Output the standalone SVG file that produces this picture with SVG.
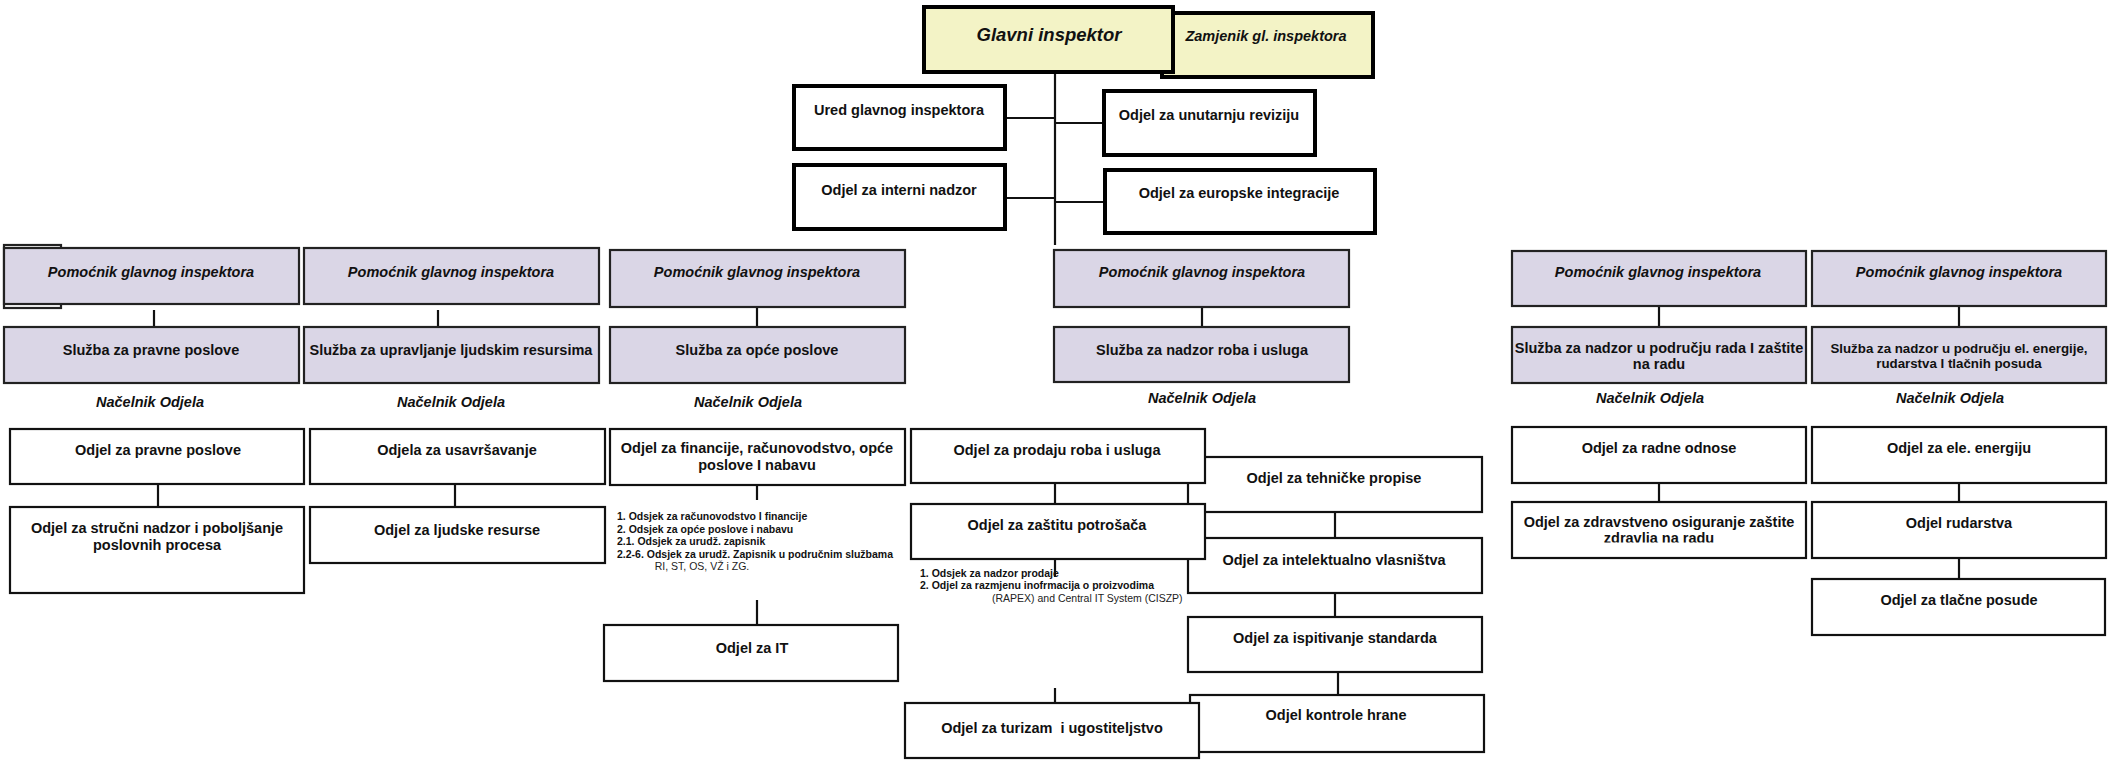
<svg xmlns="http://www.w3.org/2000/svg" width="2114" height="760" viewBox="0 0 2114 760">
<defs>
<style>
text{font-family:"Liberation Sans",Arial,sans-serif;fill:#111;}
.t{font-size:14.5px;font-weight:bold;text-anchor:middle;}
.ti{font-size:14.5px;font-weight:bold;font-style:italic;text-anchor:middle;}
.big{font-size:18.5px;font-weight:bold;font-style:italic;text-anchor:middle;}
.sm{font-size:10.5px;font-weight:bold;}
.rg{font-size:10.5px;font-weight:normal;fill:#222;}
.w{fill:#fff;stroke:#111;stroke-width:2.2;}
.wt{fill:#fff;stroke:#000;stroke-width:4;}
.y{fill:#f3f3c6;stroke:#000;stroke-width:4;}
.l{fill:#dad6e6;stroke:#222;stroke-width:2.2;}
.c{stroke:#111;stroke-width:2.2;fill:none;}
</style>
<clipPath id="clipZd"><rect x="1512" y="502" width="294" height="40.5"/></clipPath>
</defs>
<rect width="2114" height="760" fill="#fff"/>

<g id="connectors">
<line class="c" x1="1055" y1="72" x2="1055" y2="245"/>
<line class="c" x1="1005" y1="118" x2="1055" y2="118"/>
<line class="c" x1="1055" y1="123" x2="1104" y2="123"/>
<line class="c" x1="1005" y1="198" x2="1055" y2="198"/>
<line class="c" x1="1055" y1="202" x2="1105" y2="202"/>
<line class="c" x1="154" y1="310" x2="154" y2="327"/>
<line class="c" x1="438" y1="310" x2="438" y2="327"/>
<line class="c" x1="757" y1="307" x2="757" y2="327"/>
<line class="c" x1="1202" y1="307" x2="1202" y2="327"/>
<line class="c" x1="1659" y1="306" x2="1659" y2="327"/>
<line class="c" x1="1959" y1="306" x2="1959" y2="327"/>
<line class="c" x1="158" y1="484" x2="158" y2="507"/>
<line class="c" x1="455" y1="484" x2="455" y2="507"/>
<line class="c" x1="757" y1="485" x2="757" y2="500"/>
<line class="c" x1="757" y1="600" x2="757" y2="625"/>
<line class="c" x1="1055" y1="483" x2="1055" y2="504"/>
<line class="c" x1="1055" y1="559" x2="1055" y2="577"/>
<line class="c" x1="1055" y1="688" x2="1055" y2="703"/>
<line class="c" x1="1335" y1="512" x2="1335" y2="538"/>
<line class="c" x1="1335" y1="593" x2="1335" y2="617"/>
<line class="c" x1="1338" y1="672" x2="1338" y2="695"/>
<line class="c" x1="1659" y1="483" x2="1659" y2="502"/>
<line class="c" x1="1959" y1="483" x2="1959" y2="502"/>
<line class="c" x1="1959" y1="558" x2="1959" y2="579"/>
</g>

<g id="zamjenik"><rect class="y" x="1162" y="13" width="211" height="64"/><text class="ti" x="1266" y="41">Zamjenik gl. inspektora</text></g>
<g id="glavni"><rect class="y" x="924" y="7" width="249" height="65"/><text class="big" x="1049" y="41">Glavni inspektor</text></g>

<g id="ured"><rect class="wt" x="794" y="86" width="211" height="63"/><text class="t" x="899" y="115">Ured glavnog inspektora</text></g>
<g id="revizija"><rect class="wt" x="1104" y="91" width="211" height="64"/><text class="t" x="1209" y="120">Odjel za unutarnju reviziju</text></g>
<g id="interni"><rect class="wt" x="794" y="165" width="211" height="64"/><text class="t" x="899" y="195">Odjel za interni nadzor</text></g>
<g id="europske"><rect class="wt" x="1105" y="170" width="270" height="63"/><text class="t" x="1239" y="198">Odjel za europske integracije</text></g>

<!-- column 1 -->
<g id="pom1"><rect x="4" y="245" width="57" height="63" fill="#fff" stroke="#222" stroke-width="2.2"/><rect class="l" x="4" y="248" width="295" height="56"/><text class="ti" x="151" y="277">Pomoćnik glavnog inspektora</text></g>
<g id="sl1"><rect class="l" x="4" y="327" width="295" height="56"/><text class="t" x="151" y="355">Služba za pravne poslove</text></g>
<g id="nac1"><text class="ti" x="150" y="407">Načelnik Odjela</text></g>
<g id="od1a"><rect class="w" x="10" y="429" width="294" height="55"/><text class="t" x="158" y="455">Odjel za pravne poslove</text></g>
<g id="od1b"><rect class="w" x="10" y="507" width="294" height="86"/><text class="t" x="157" y="533">Odjel za stručni nadzor i poboljšanje</text><text class="t" x="157" y="550">poslovnih procesa</text></g>

<!-- column 2 -->
<g id="pom2"><rect class="l" x="304" y="248" width="295" height="56"/><text class="ti" x="451" y="277">Pomoćnik glavnog inspektora</text></g>
<g id="sl2"><rect class="l" x="304" y="327" width="295" height="56"/><text class="t" x="451" y="355">Služba za upravljanje ljudskim resursima</text></g>
<g id="nac2"><text class="ti" x="451" y="407">Načelnik Odjela</text></g>
<g id="od2a"><rect class="w" x="310" y="429" width="295" height="55"/><text class="t" x="457" y="455">Odjela za usavršavanje</text></g>
<g id="od2b"><rect class="w" x="310" y="507" width="295" height="56"/><text class="t" x="457" y="535">Odjel za ljudske resurse</text></g>

<!-- column 3 -->
<g id="pom3"><rect class="l" x="610" y="250" width="295" height="57"/><text class="ti" x="757" y="277">Pomoćnik glavnog inspektora</text></g>
<g id="sl3"><rect class="l" x="610" y="327" width="295" height="56"/><text class="t" x="757" y="355">Služba za opće poslove</text></g>
<g id="nac3"><text class="ti" x="748" y="407">Načelnik Odjela</text></g>
<g id="od3a"><rect class="w" x="610" y="429" width="295" height="56"/><text class="t" x="757" y="453">Odjel za financije, računovodstvo, opće</text><text class="t" x="757" y="470">poslove I nabavu</text></g>
<g id="list3"><text class="sm" x="617" y="520">1. Odsjek za računovodstvo I financije</text><text class="sm" x="617" y="532.5">2. Odsjek za opće poslove i nabavu</text><text class="sm" x="617" y="545">2.1. Odsjek za urudž. zapisnik</text><text class="sm" x="617" y="557.5">2.2-6. Odsjek za urudž. Zapisnik u područnim službama</text><text class="rg" x="702" y="570" text-anchor="middle">RI, ST, OS, VŽ i ZG.</text></g>
<g id="od3it"><rect class="w" x="604" y="625" width="294" height="56"/><text class="t" x="752" y="653">Odjel za IT</text></g>

<!-- column 4 -->
<g id="pom4"><rect class="l" x="1054" y="250" width="295" height="57"/><text class="ti" x="1202" y="277">Pomoćnik glavnog inspektora</text></g>
<g id="sl4"><rect class="l" x="1054" y="327" width="295" height="55"/><text class="t" x="1202" y="355">Služba za nadzor roba i usluga</text></g>
<g id="nac4"><text class="ti" x="1202" y="403">Načelnik Odjela</text></g>
<g id="tehnicke"><rect class="w" x="1188" y="457" width="294" height="55"/><text class="t" x="1334" y="483">Odjel za tehničke propise</text></g>
<g id="prodaja"><rect class="w" x="911" y="429" width="294" height="54"/><text class="t" x="1057" y="455">Odjel za prodaju roba i usluga</text></g>
<g id="intelekt"><rect class="w" x="1188" y="538" width="294" height="55"/><text class="t" x="1334" y="565">Odjel za intelektualno vlasništva</text></g>
<g id="zastita"><rect class="w" x="911" y="504" width="294" height="55"/><text class="t" x="1057" y="530">Odjel za zaštitu potrošača</text></g>
<g id="list4"><text class="sm" x="920" y="577">1. Odsjek za nadzor prodaje</text><text class="sm" x="920" y="589">2. Odjel za razmjenu inofrmacija o proizvodima</text><text class="rg" x="992" y="602">(RAPEX) and Central IT System (CISZP)</text></g>
<g id="ispit"><rect class="w" x="1188" y="617" width="294" height="55"/><text class="t" x="1335" y="643">Odjel za ispitivanje standarda</text></g>
<g id="hrana"><rect class="w" x="1190" y="695" width="294" height="57"/><text class="t" x="1336" y="720">Odjel kontrole hrane</text></g>
<g id="turizam"><rect class="w" x="905" y="703" width="294" height="55"/><text class="t" x="1052" y="733" xml:space="preserve">Odjel za turizam  i ugostiteljstvo</text></g>

<!-- column 5 -->
<g id="pom5"><rect class="l" x="1512" y="251" width="294" height="55"/><text class="ti" x="1658" y="277">Pomoćnik glavnog inspektora</text></g>
<g id="sl5"><rect class="l" x="1512" y="327" width="294" height="56"/><text class="t" x="1659" y="353">Služba za nadzor u području rada I zaštite</text><text class="t" x="1659" y="369">na radu</text></g>
<g id="nac5"><text class="ti" x="1650" y="403">Načelnik Odjela</text></g>
<g id="od5a"><rect class="w" x="1512" y="427" width="294" height="56"/><text class="t" x="1659" y="453">Odjel za radne odnose</text></g>
<g id="od5b"><rect class="w" x="1512" y="502" width="294" height="56"/><text class="t" x="1659" y="527">Odjel za zdravstveno osiguranje zaštite</text><text class="t" x="1659" y="543" clip-path="url(#clipZd)">zdravlja na radu</text></g>

<!-- column 6 -->
<g id="pom6"><rect class="l" x="1812" y="251" width="294" height="55"/><text class="ti" x="1959" y="277">Pomoćnik glavnog inspektora</text></g>
<g id="sl6"><rect class="l" x="1812" y="327" width="294" height="56"/><text class="t" x="1959" y="353" style="font-size:13.3px">Služba za nadzor u području el. energije,</text><text class="t" x="1959" y="368" style="font-size:13.3px">rudarstva I tlačnih posuda</text></g>
<g id="nac6"><text class="ti" x="1950" y="403">Načelnik Odjela</text></g>
<g id="od6a"><rect class="w" x="1812" y="427" width="294" height="56"/><text class="t" x="1959" y="453">Odjel za ele. energiju</text></g>
<g id="od6b"><rect class="w" x="1812" y="502" width="294" height="56"/><text class="t" x="1959" y="528">Odjel rudarstva</text></g>
<g id="od6c"><rect class="w" x="1812" y="579" width="293" height="56"/><text class="t" x="1959" y="605">Odjel za tlačne posude</text></g>
</svg>
